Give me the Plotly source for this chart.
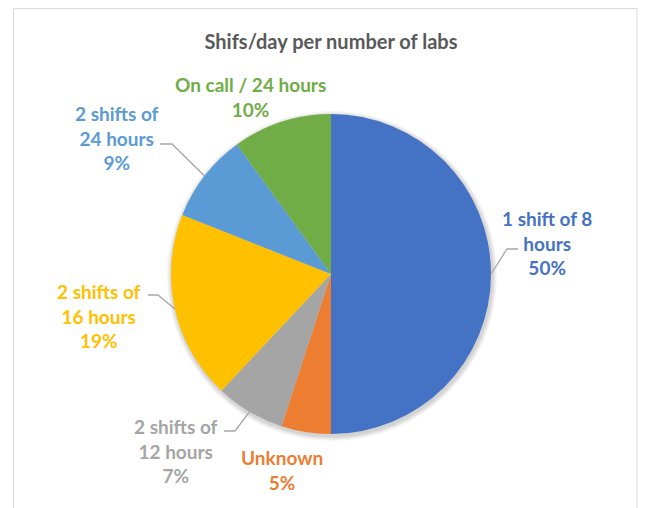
import math
import plotly.graph_objects as go

labels = ["1 shift of 8 hours", "Unknown", "2 shifts of 12 hours",
          "2 shifts of 16 hours", "2 shifts of 24 hours", "On call / 24 hours"]
values = [50, 5, 7, 19, 9, 10]
colors = ["#4472C4", "#ED7D31", "#A5A5A5", "#FFC000", "#5B9BD5", "#70AD47"]
label_texts = ["1 shift of 8<br>hours<br>50%", "Unknown<br>5%", "2 shifts of<br>12 hours<br>7%",
               "2 shifts of<br>16 hours<br>19%", "2 shifts of<br>24 hours<br>9%",
               "On call / 24 hours<br>10%"]

W, H = 648, 508
OFF = 8  # page body margin offset
CX, CY, R = 331, 274, 160
FONT = "Lato, 'Open Sans', sans-serif"

# label centres (pixels) and leader elbow points (pixels) or None
label_pos = [(547, 243), (282, 470), (176, 451), (99, 316), (117, 138), (250, 97)]
elbows = [[(507, 249), (518, 249)], None, [(235, 431), (224, 431)],
          [(158, 295), (148, 295)], [(172, 144), (160, 144)], None]

def px(x, y):
    return (x - OFF) / W, 1 - (y - OFF) / H

dx0, dy1 = px(CX - R, CY - R)
dx1, dy0 = px(CX + R, CY + R)

fig = go.Figure(go.Pie(
    labels=labels, values=values, sort=False, direction="clockwise", rotation=0,
    marker=dict(colors=colors, line=dict(width=0)),
    textinfo="none", hoverinfo="label+percent", showlegend=False,
    domain=dict(x=[dx0, dx1], y=[dy0, dy1]),
))

annotations = []
bx0, _ = px(13.5, 0)
bx1, _ = px(637, 0)
shapes = [dict(type="rect", xref="paper", yref="paper",
               x0=bx0, x1=bx1, y0=-0.05, y1=1 - 0.6 / H,
               line=dict(color="#D9D9D9", width=1), fillcolor="rgba(0,0,0,0)", layer="below")]

# soft shadow behind the pie
for k in range(5, 0, -1):
    sx0, sy1 = px(CX - R - k + 1, CY - R - k + 2)
    sx1, sy0 = px(CX + R + k + 1, CY + R + k + 2)
    shapes.append(dict(type="circle", xref="paper", yref="paper", x0=sx0, x1=sx1, y0=sy0, y1=sy1,
                       line=dict(width=0), fillcolor="rgba(0,0,0,0.035)", layer="below"))

total = sum(values)
cum = 0
for v, c, t, pos, el in zip(values, colors, label_texts, label_pos, elbows):
    mid = (cum + v / 2) / total * 2 * math.pi
    cum += v
    ax, ay = px(*pos)
    annotations.append(dict(x=ax, y=ay, xref="paper", yref="paper", text="<b>" + t + "</b>",
                            showarrow=False,
                            font=dict(family=FONT, size=19, color=c), align="center",
                            xanchor="center", yanchor="middle"))
    if el:
        sx = CX + R * math.sin(mid)
        sy = CY - R * math.cos(mid)
        pts = [(sx, sy)] + el
        path = "M " + " L ".join(f"{px(x, y)[0]} {px(x, y)[1]}" for x, y in pts)
        shapes.append(dict(type="path", xref="paper", yref="paper", path=path,
                           line=dict(color="#A6A6A6", width=1.3)))

tx, ty = px(331, 42)
fig.update_layout(
    width=W, height=H, margin=dict(l=0, r=0, t=0, b=0),
    paper_bgcolor="white", plot_bgcolor="white",
    title=dict(text="<b>Shifs/day per number of labs</b>", x=tx, xanchor="center",
               y=ty, yanchor="middle",
               font=dict(family=FONT, size=20, color="#595959")),
    annotations=annotations, shapes=shapes,
)
fig.write_html("out.html")
